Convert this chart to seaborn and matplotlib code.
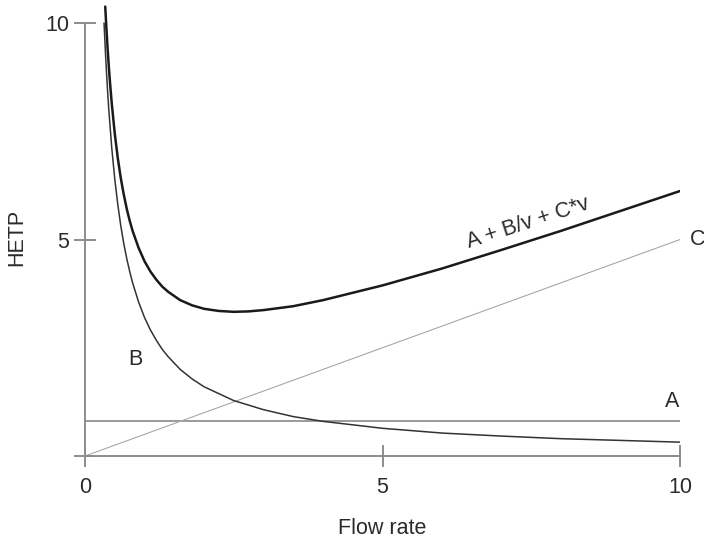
import numpy as np
import pandas as pd
import matplotlib
matplotlib.use('Agg')
import matplotlib.pyplot as plt
import seaborn as sns

# values
flow_b = [0.32, 0.35, 0.38, 0.4, 0.45, 0.5, 0.55, 0.6, 0.65, 0.7, 0.75, 0.8, 0.9, 1.0, 1.1,
          1.2, 1.3, 1.4, 1.6, 1.8, 2.0, 2.5, 3.0, 3.5, 4.0, 5.0, 6.0, 7.0, 8.0, 9.0, 10.0]
hetp_b = [10.0, 9.14, 8.42, 8.0, 7.11, 6.4, 5.82, 5.33, 4.92, 4.57, 4.27, 4.0, 3.56, 3.2, 2.91,
          2.67, 2.46, 2.29, 2.0, 1.78, 1.6, 1.28, 1.07, 0.91, 0.8, 0.64, 0.53, 0.46, 0.40, 0.36, 0.32]

flow_total = [0.34, 0.36, 0.38, 0.4, 0.42, 0.45, 0.5, 0.55, 0.6, 0.65, 0.7, 0.75, 0.8, 0.9, 1.0,
              1.1, 1.2, 1.3, 1.4, 1.6, 1.8, 2.0, 2.25, 2.5, 2.75, 3.0, 3.5, 4.0, 5.0, 6.0, 7.0,
              8.0, 9.0, 10.0]
hetp_total = [10.38, 9.87, 9.41, 9.0, 8.63, 8.14, 7.45, 6.89, 6.43, 6.05, 5.72, 5.44, 5.2, 4.81, 4.5,
              4.26, 4.07, 3.91, 3.79, 3.6, 3.48, 3.4, 3.35, 3.33, 3.34, 3.37, 3.46, 3.6, 3.94, 4.33, 4.76,
              5.2, 5.66, 6.12]

flow_a = [0, 10]
hetp_a = [0.8, 0.8]

flow_c = [0, 10]
hetp_c = [0, 5.0]

x_ticks = [0, 5, 10]
y_ticks = [0, 5, 10]
y_tick_labels = ['', '5', '10']

TXT = '#2b2b2b'
AX_GREY = '#8c8c8c'

sns.set_style('white')
plt.rcParams['font.family'] = ['Liberation Sans', 'DejaVu Sans']
plt.rcParams['font.size'] = 15.5

fig = plt.figure(figsize=(7.04, 5.40), dpi=100)
ax = fig.add_axes([85 / 704, 84 / 540, 595 / 704, 454.6 / 540])

sns.lineplot(x=flow_a, y=hetp_a, ax=ax, color='#9a9a9a', lw=1.4)
sns.lineplot(x=flow_c, y=hetp_c, ax=ax, color='#a8a8a8', lw=0.8)
sns.lineplot(x=flow_b, y=hetp_b, ax=ax, color='#333333', lw=1.1)
sns.lineplot(x=flow_total, y=hetp_total, ax=ax, color='#1a1a1a', lw=1.8)

ax.set_xlim(0, 10)
ax.set_ylim(0, 10.5)

for s in ['top', 'right']:
    ax.spines[s].set_visible(False)
for s in ['left', 'bottom']:
    ax.spines[s].set_color(AX_GREY)
    ax.spines[s].set_linewidth(1.4)
ax.spines['left'].set_bounds(0, 10)
ax.spines['bottom'].set_bounds(0, 10)

ax.set_xticks(x_ticks)
ax.set_yticks(y_ticks)
ax.set_yticklabels(y_tick_labels)
ax.tick_params(axis='both', direction='inout', length=16, width=1.4, bottom=True, left=True,
               color=AX_GREY, labelcolor=TXT, labelsize=15.5)
ax.tick_params(axis='x', pad=7)
ax.tick_params(axis='y', pad=3.5)
for t in ax.xaxis.get_major_ticks() + ax.yaxis.get_major_ticks():
    t.tick1line.set_clip_on(False)

ax.set_xlabel('Flow rate', color=TXT, fontsize=15.5)
ax.set_ylabel('HETP', color=TXT, fontsize=15.5)
ax.xaxis.set_label_coords(0.5, -0.137)
ax.yaxis.set_label_coords(-0.0975, 0.48)

ax.text(7.45, 5.38, 'A + B/v + C*v', rotation=18, rotation_mode='anchor',
        ha='center', va='center', color=TXT, fontsize=15.5)
ax.text(10.29, 4.99, 'C', ha='center', va='center', color=TXT, fontsize=15.5, clip_on=False)
ax.text(9.87, 1.25, 'A', ha='center', va='center', color=TXT, fontsize=15.5)
ax.text(0.84, 2.22, 'B', ha='center', va='center', color=TXT, fontsize=15.5)

fig.savefig('out.png', dpi=100)
